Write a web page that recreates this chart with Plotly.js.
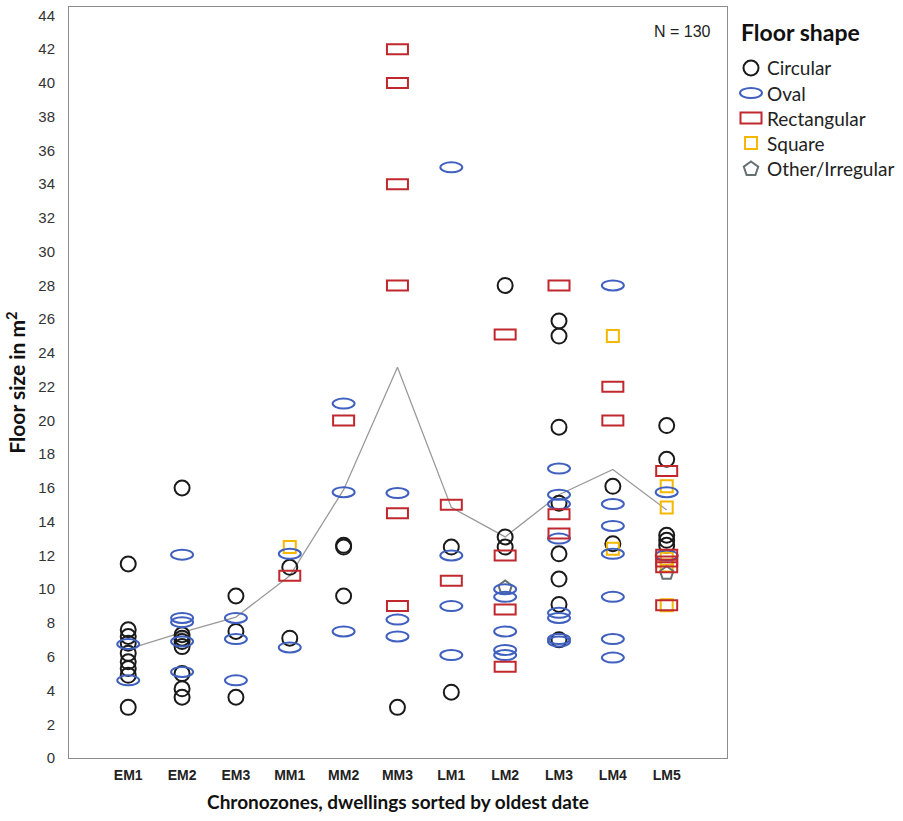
<!DOCTYPE html>
<html>
<head>
<meta charset="utf-8">
<script src="https://cdn.plot.ly/plotly-3.0.1.min.js"></script>
<style>html,body{margin:0;padding:0;background:#fff;}#chart{width:903px;height:821px;}</style>
</head>
<body>
<div id="chart"></div>
<script>
// ---- data ----
const zones = ['EM1','EM2','EM3','MM1','MM2','MM3','LM1','LM2','LM3','LM4','LM5'];

const circularZone = ['EM1','EM1','EM1','EM1','EM1','EM1','EM1','EM1','EM1',
  'EM2','EM2','EM2','EM2','EM2','EM2','EM2','EM2',
  'EM3','EM3','EM3','MM1','MM1','MM2','MM2','MM2','MM3','LM1','LM1',
  'LM2','LM2','LM2',
  'LM3','LM3','LM3','LM3','LM3','LM3','LM3','LM3',
  'LM4','LM4','LM5','LM5','LM5','LM5','LM5'];
const circularSize = [11.5,7.6,7.2,6.8,6.2,5.7,5.3,4.9,3.0,
  16.0,7.3,7.1,6.9,6.6,5.0,4.1,3.6,
  9.6,7.5,3.6,11.3,7.1,12.6,12.5,9.6,3.0,12.5,3.9,
  28.0,13.1,12.5,
  25.9,25.0,19.6,15.1,12.1,10.6,9.1,7.0,
  16.1,12.7,19.7,17.7,13.2,12.9,12.6];

const ovalZone = ['EM1','EM1','EM2','EM2','EM2','EM2','EM2','EM3','EM3','EM3',
  'MM1','MM1','MM2','MM2','MM2','MM3','MM3','MM3','LM1','LM1','LM1','LM1',
  'LM2','LM2','LM2','LM2','LM2',
  'LM3','LM3','LM3','LM3','LM3','LM3','LM3','LM3',
  'LM4','LM4','LM4','LM4','LM4','LM4','LM4','LM5','LM5'];
const ovalSize = [6.75,4.6,12.05,8.3,8.05,6.9,5.1,8.3,7.05,4.6,
  12.1,6.55,21.0,15.75,7.5,15.7,8.2,7.2,35.0,12.0,9.0,6.1,
  10.0,9.55,7.5,6.4,6.1,
  17.15,15.6,15.05,13.0,8.6,8.3,7.05,6.9,
  28.0,15.05,13.75,12.1,9.55,7.05,5.95,15.75,12.0];

const rectangularZone = ['MM1','MM2','MM3','MM3','MM3','MM3','MM3','MM3','LM1','LM1',
  'LM2','LM2','LM2','LM2','LM3','LM3','LM3','LM4','LM4','LM5','LM5','LM5','LM5','LM5'];
const rectangularSize = [10.8,20.0,42,40,34,28,14.5,9.0,15.0,10.5,
  25.1,12.0,8.8,5.4,28.0,14.45,13.3,22.0,20.0,17.0,12.05,11.65,11.3,9.05];

const squareZone = ['MM1','LM4','LM4','LM5','LM5','LM5','LM5','LM5'];
const squareSize = [12.5,25.0,12.4,16.1,14.85,11.8,11.4,9.05];

const otherZone = ['LM2','LM5'];
const otherSize = [10.1,10.95];

// mean floor size per chronozone (grey line)
const meanSize = [6.45,7.45,8.35,10.8,15.9,23.15,14.85,13.1,15.6,17.1,14.7];

const legendLabels = ['Circular','Oval','Rectangular','Square','Other/Irregular'];

// ---- styles ----
const C_CIRC = '#1a1a1a', C_OVAL = '#4060c0', C_RECT = '#c0282e', C_SQ = '#f5b700', C_OTH = '#66706f';
const idx = z => zones.indexOf(z);

const traces = [
  {x: zones.map((z,i)=>i), y: meanSize, type:'scatter', mode:'lines',
   line:{color:'#9a9a9a', width:1.3}, hoverinfo:'skip', showlegend:false},
  {x: circularZone.map(idx), y: circularSize, type:'scatter', mode:'markers', showlegend:false,
   marker:{symbol:'circle-open', size:15, color:C_CIRC, line:{width:2, color:C_CIRC}}},
  {x: squareZone.map(idx), y: squareSize, type:'scatter', mode:'markers', showlegend:false,
   marker:{symbol:'square-open', size:12, color:C_SQ, line:{width:2, color:C_SQ}}},
  {x: otherZone.map(idx), y: otherSize, type:'scatter', mode:'markers', showlegend:false,
   marker:{symbol:'pentagon-open', size:14, color:C_OTH, line:{width:2, color:C_OTH}}}
];

const shapes = [];
ovalZone.forEach((z,i)=>shapes.push({type:'circle', xref:'x', yref:'y', xsizemode:'pixel', ysizemode:'pixel',
  xanchor: idx(z), yanchor: ovalSize[i], x0:-11, x1:11, y0:-5, y1:5, layer:'above',
  line:{color:C_OVAL, width:2}}));
rectangularZone.forEach((z,i)=>shapes.push({type:'rect', xref:'x', yref:'y', xsizemode:'pixel', ysizemode:'pixel',
  xanchor: idx(z), yanchor: rectangularSize[i], x0:-10.5, x1:10.5, y0:-5, y1:5, layer:'above',
  line:{color:C_RECT, width:2}}));

// ---- custom legend ----
const PL = 69, PR = 727, PT = 7, PB = 758;
const px2x = p => (p - PL) / (PR - PL);
const px2y = p => (PB - p) / (PB - PT);
const legRows = [68, 93, 118, 143, 169];
const legX = px2x(751);
function legShape(type, row, w, h, color, path){
  const s = {type:type, xref:'paper', yref:'paper', xsizemode:'pixel', ysizemode:'pixel',
    xanchor: legX, yanchor: px2y(legRows[row]), line:{color:color, width:2}, layer:'above'};
  if (path) s.path = path; else { s.x0=-w/2; s.x1=w/2; s.y0=-h/2; s.y1=h/2; }
  return s;
}
shapes.push(legShape('circle',0,15,15,C_CIRC));
shapes.push(legShape('circle',1,22,10,C_OVAL));
shapes.push(legShape('rect',2,21,11,C_RECT));
shapes.push(legShape('rect',3,12,12,C_SQ));
shapes.push(legShape('path',4,0,0,C_OTH,'M0,7.5 L7.2,2.3 L4.4,-6 L-4.4,-6 L-7.2,2.3 Z'));

const annotations = [
  {xref:'paper', yref:'paper', x:px2x(739), y:px2y(32), xanchor:'left', yanchor:'middle', showarrow:false,
   text:'<b>Floor shape</b>', font:{family:'Lato, sans-serif', size:23, color:'#111'}},
  {xref:'paper', yref:'paper', x:px2x(713), y:px2y(32), xanchor:'right', yanchor:'middle', showarrow:false,
   text:'N = 130', font:{family:'Liberation Sans, Arial, sans-serif', size:16, color:'#222'}}
];
legendLabels.forEach((t,i)=>annotations.push({xref:'paper', yref:'paper', x:px2x(765), y:px2y(legRows[i]),
  xanchor:'left', yanchor:'middle', showarrow:false, text:t,
  font:{family:'Lato, sans-serif', size:19, color:'#222'}}));

const layout = {
  width:903, height:821,
  margin:{l:PL, r:903-PR, t:PT, b:821-PB, pad:0},
  paper_bgcolor:'#fff', plot_bgcolor:'#fff',
  showlegend:false,
  xaxis:{range:[-1.1,11.12], tickvals: zones.map((z,i)=>i), ticktext: zones.map(z=>'<b>'+z+'</b>'),
    showgrid:false, zeroline:false, showline:true, linecolor:'#8c8c8c', linewidth:1, mirror:true,
    ticks:'outside', ticklen:4, tickcolor:'rgba(0,0,0,0)',
    tickfont:{family:'Liberation Sans, Arial, sans-serif', size:14, color:'#222'},
    title:{text:'<b>Chronozones, dwellings sorted by oldest date</b>', standoff:13,
      font:{family:'Lato, sans-serif', size:19, color:'#111'}}},
  yaxis:{range:[0,44.5], dtick:2, tick0:0, showgrid:false, zeroline:false, showline:true,
    linecolor:'#8c8c8c', linewidth:1, mirror:true,
    ticks:'outside', ticklen:10, tickcolor:'rgba(0,0,0,0)',
    tickfont:{family:'Liberation Sans, Arial, sans-serif', size:15, color:'#333'},
    title:{text:'<b>Floor size in m<sup>2</sup></b>', standoff:6,
      font:{family:'Lato, sans-serif', size:21, color:'#111'}}},
  shapes: shapes,
  annotations: annotations
};

Plotly.newPlot('chart', traces, layout, {displayModeBar:false, staticPlot:true});
</script>
</body>
</html>
